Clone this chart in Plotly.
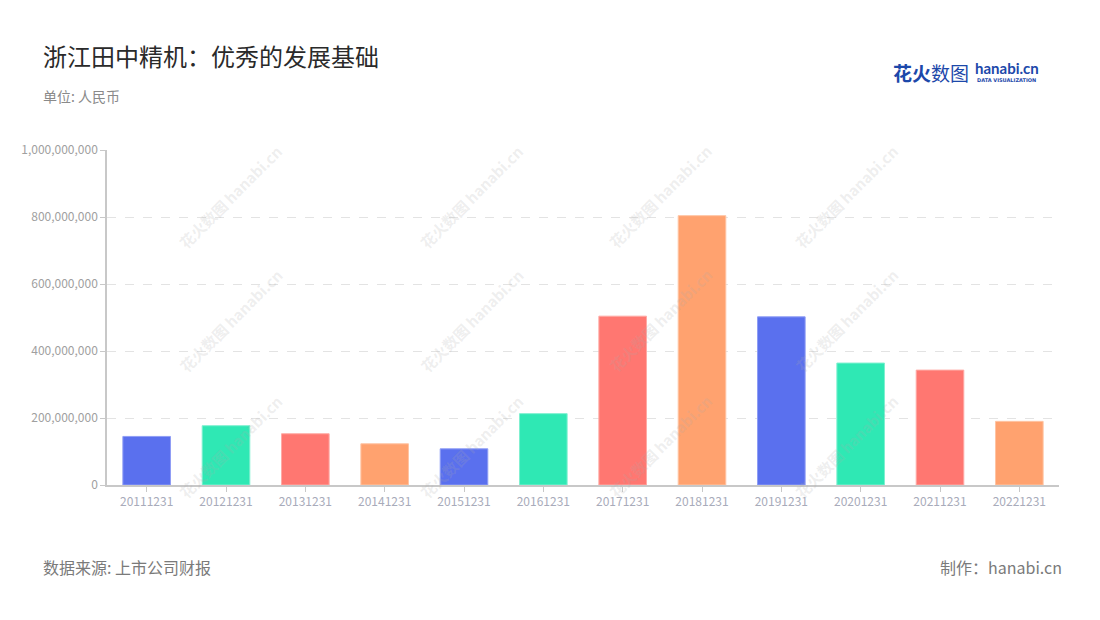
import plotly.graph_objects as go

categories = ["20111231", "20121231", "20131231", "20141231", "20151231", "20161231",
              "20171231", "20181231", "20191231", "20201231", "20211231", "20221231"]
values = [145e6, 177e6, 153e6, 123e6, 108e6, 213e6, 504e6, 804e6, 502e6, 364e6, 343e6, 190e6]
palette = ["#5A70EE", "#2FE8B4", "#FF7771", "#FFA26F"]
border = ["#8F9DF5", "#7FF0D0", "#FFAAA5", "#FFC4A3"]
y_ticks = [0, 200e6, 400e6, 600e6, 800e6, 1000e6]
y_tick_text = ["0", "200,000,000", "400,000,000", "600,000,000", "800,000,000", "1,000,000,000"]

colors = [palette[i % 4] for i in range(len(categories))]
lines = [border[i % 4] for i in range(len(categories))]

FONT = "Noto Sans CJK SC"

fig = go.Figure()
fig.add_trace(go.Bar(
    x=categories, y=values,
    marker=dict(color=colors, line=dict(color=lines, width=1)),
    hoverinfo="x+y",
))

fig.update_layout(
    width=1100, height=620,
    paper_bgcolor="white", plot_bgcolor="white",
    margin=dict(l=99, r=49, t=142, b=143),
    bargap=0.4,
    showlegend=False,
    font=dict(family=FONT, color="#999"),
)
fig.update_xaxes(
    type="category",
    showline=True, linecolor="#c8c8c8", linewidth=1.5,
    ticks="outside", ticklen=5, tickcolor="#c8c8c8",
    tickfont=dict(size=12, color="#a8abba", family=FONT),
    showgrid=False,
)
fig.update_yaxes(
    range=[0, 1000e6],
    tickvals=y_ticks, ticktext=y_tick_text,
    showline=True, linecolor="#c8c8c8", linewidth=1.5,
    ticks="outside", ticklen=5, tickcolor="#c8c8c8",
    tickfont=dict(size=12, color="#a0a0a0", family=FONT),
    showgrid=True, gridcolor="#e3e3e3", griddash="dash", gridwidth=1,
    zeroline=False,
)


def px(x):
    return (x - 107) / 952


def py(y):
    return (485 - y) / 335


ann = []
# watermarks (tiled, rotated)
for y in (138, 320, 505):
    for x in (172, 413, 660, 905):
        ann.append(dict(xref="paper", yref="paper", x=px(x), y=py(y),
                        text="<b>花火数图</b> <b>hanabi.cn</b>", showarrow=False, textangle=-45,
                        font=dict(size=15, color="rgba(170,170,170,0.2)", family=FONT)))

ann += [
    dict(xref="paper", yref="paper", x=px(41), y=py(55),
         xanchor="left", yanchor="middle", showarrow=False,
         text="浙江田中精机：优秀的发展基础",
         font=dict(size=24, color="#2a2a2a", family=FONT)),
    dict(xref="paper", yref="paper", x=px(41), y=py(96),
         xanchor="left", yanchor="middle", showarrow=False,
         text="单位: 人民币",
         font=dict(size=14, color="#8a8a8a", family=FONT)),
    dict(xref="paper", yref="paper", x=px(41), y=py(567),
         xanchor="left", yanchor="middle", showarrow=False,
         text="数据来源: 上市公司财报",
         font=dict(size=16, color="#7a7a7a", family=FONT)),
    dict(xref="paper", yref="paper", x=px(1064), y=py(567),
         xanchor="right", yanchor="middle", showarrow=False,
         text="制作：hanabi.cn",
         font=dict(size=16, color="#7a7a7a", family=FONT)),
    # logo
    dict(xref="paper", yref="paper", x=px(891), y=py(72),
         xanchor="left", yanchor="middle", showarrow=False,
         text="<b>花火</b>数图",
         font=dict(size=19, color="#1C48AA", family=FONT)),
    dict(xref="paper", yref="paper", x=px(973), y=py(68),
         xanchor="left", yanchor="middle", showarrow=False,
         text="<b>hanabi.cn</b>",
         font=dict(size=15, color="#1C48AA", family="Lato")),
    dict(xref="paper", yref="paper", x=px(975), y=py(80),
         xanchor="left", yanchor="middle", showarrow=False,
         text="<b>DATA VISUALIZATION</b>",
         font=dict(size=5, color="#1C48AA", family="DejaVu Sans")),
]
fig.update_layout(annotations=ann)

fig.write_html("out.html")
